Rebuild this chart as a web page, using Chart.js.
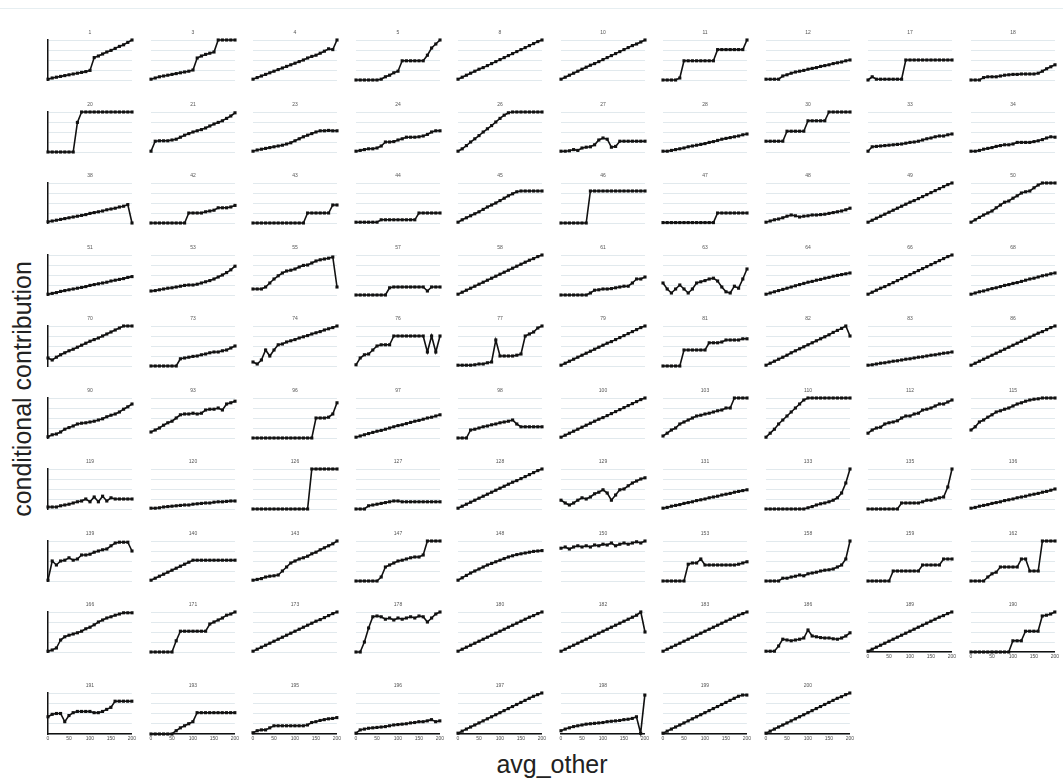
<!DOCTYPE html>
<html>
<head>
<meta charset="utf-8">
<script src="https://cdn.jsdelivr.net/npm/chart.js@4.4.1/dist/chart.umd.min.js"></script>
<style>
    body { margin: 0; background: #fff; }
    #wrap { position: relative; width: 1063px; height: 780px; overflow: hidden; font-family: "Liberation Sans", Arial, sans-serif; }
    #wrap canvas { position: absolute; }
    .topline { position: absolute; left: 0; top: 8px; width: 1063px; height: 1px; background: #e6eef1; }
    .ylab { position: absolute; left: 22px; top: 389px; transform: translate(-50%, -50%) rotate(-90deg); font-size: 25px; color: #222; white-space: nowrap; }
    .xlab { position: absolute; left: 552px; top: 764px; transform: translate(-50%, -50%); font-size: 25px; color: #222; white-space: nowrap; }
</style>
</head>
<body>
<div id="wrap">
    <div class="topline"></div>
    <div class="ylab">conditional contribution</div>
    <div class="xlab">avg_other</div>
</div>
<script>
// avg_other values where each panel is evaluated
const xValues = [0, 10, 20, 30, 40, 50, 60, 70, 80, 90, 100, 110, 120, 130, 140, 150, 160, 170, 180, 190, 200];
const xTickStep = 50;
const yTickStep = 25;

// panel labels
const panelIds = [
    '1', '3', '4', '5', '8', '10', '11', '12', '17', '18',
    '20', '21', '23', '24', '26', '27', '28', '30', '33', '34',
    '38', '42', '43', '44', '45', '46', '47', '48', '49', '50',
    '51', '53', '55', '57', '58', '61', '63', '64', '66', '68',
    '70', '73', '74', '76', '77', '79', '81', '82', '83', '86',
    '90', '93', '96', '97', '98', '100', '103', '110', '112', '115',
    '119', '120', '126', '127', '128', '129', '131', '133', '135', '136',
    '139', '140', '143', '147', '148', '150', '153', '158', '159', '162',
    '166', '171', '173', '178', '180', '182', '183', '186', '189', '190',
    '191', '193', '195', '196', '197', '198', '199', '200'
];

// conditional contribution, one row of panels per array
const row0 = [
    [2, 5, 7, 9, 11, 13, 15, 17, 19, 21, 24, 56, 60, 65, 70, 74, 79, 84, 88, 94, 100],
    [2, 5, 8, 10, 12, 14, 16, 18, 20, 22, 25, 55, 60, 64, 67, 70, 100, 100, 100, 100, 100],
    [2, 6, 10, 14, 18, 22, 26, 30, 34, 38, 42, 46, 50, 55, 59, 62, 67, 72, 78, 76, 100],
    [0, 0, 0, 0, 0, 0, 2, 8, 12, 18, 22, 48, 48, 48, 48, 48, 48, 62, 80, 90, 100],
    [2, 7, 12, 17, 22, 27, 31, 36, 41, 46, 51, 56, 61, 66, 71, 76, 81, 86, 91, 96, 100],
    [2, 7, 12, 17, 22, 27, 32, 37, 41, 46, 51, 56, 61, 66, 71, 76, 81, 86, 90, 95, 100],
    [0, 0, 0, 0, 5, 48, 48, 48, 48, 48, 48, 48, 48, 76, 76, 76, 76, 76, 76, 76, 100],
    [2, 2, 2, 2, 10, 13, 17, 20, 22, 24, 27, 29, 31, 34, 36, 38, 41, 43, 45, 48, 50],
    [0, 8, 2, 2, 2, 2, 2, 2, 2, 50, 50, 50, 50, 50, 50, 50, 50, 50, 50, 50, 50],
    [0, 0, 0, 6, 8, 8, 8, 10, 12, 13, 14, 14, 15, 15, 15, 15, 17, 22, 28, 33, 38]
];
const row1 = [
    [0, 0, 0, 0, 0, 0, 0, 74, 100, 100, 100, 100, 100, 100, 100, 100, 100, 100, 100, 100, 100],
    [2, 27, 28, 28, 28, 30, 32, 37, 42, 46, 50, 53, 56, 60, 65, 70, 74, 78, 84, 90, 98],
    [2, 5, 7, 9, 11, 13, 15, 17, 20, 23, 28, 33, 38, 42, 46, 50, 53, 53, 54, 53, 53],
    [2, 4, 6, 8, 8, 10, 15, 25, 25, 26, 30, 33, 37, 37, 37, 38, 40, 44, 50, 53, 53],
    [2, 8, 16, 25, 33, 41, 50, 58, 66, 75, 84, 92, 98, 100, 100, 100, 100, 100, 100, 100, 100],
    [2, 2, 3, 6, 4, 10, 12, 13, 18, 30, 35, 32, 12, 14, 27, 27, 27, 27, 27, 27, 27],
    [2, 2, 4, 6, 8, 10, 13, 15, 17, 19, 21, 24, 26, 29, 32, 34, 36, 38, 40, 43, 45],
    [27, 27, 27, 27, 27, 52, 52, 52, 52, 52, 78, 78, 78, 78, 78, 100, 100, 100, 100, 100, 100],
    [2, 13, 14, 15, 16, 17, 18, 19, 20, 22, 24, 25, 27, 30, 33, 35, 38, 40, 40, 43, 45],
    [2, 2, 4, 7, 9, 11, 14, 16, 18, 18, 20, 24, 24, 24, 24, 26, 28, 31, 35, 38, 37]
];
const row2 = [
    [3, 5, 7, 9, 11, 13, 15, 17, 19, 21, 24, 26, 28, 30, 33, 35, 37, 40, 42, 46, 0],
    [0, 0, 0, 0, 0, 0, 0, 0, 0, 25, 25, 25, 25, 28, 30, 32, 38, 38, 38, 40, 44],
    [0, 0, 0, 0, 0, 0, 0, 0, 0, 0, 0, 0, 0, 25, 25, 25, 25, 25, 25, 45, 45],
    [2, 2, 2, 2, 2, 2, 8, 8, 8, 8, 8, 8, 8, 8, 8, 25, 25, 25, 25, 25, 25],
    [2, 8, 13, 18, 23, 28, 34, 40, 45, 50, 56, 62, 68, 73, 78, 80, 80, 80, 80, 80, 80],
    [0, 0, 0, 0, 0, 0, 0, 80, 80, 80, 80, 80, 80, 80, 80, 80, 80, 80, 80, 80, 80],
    [1, 1, 1, 1, 1, 1, 1, 1, 1, 1, 1, 1, 1, 25, 25, 25, 25, 25, 25, 25, 25],
    [2, 5, 8, 10, 13, 17, 20, 18, 15, 17, 18, 20, 20, 21, 22, 24, 26, 28, 30, 33, 37],
    [2, 7, 12, 17, 22, 27, 32, 37, 42, 47, 52, 56, 61, 66, 71, 76, 81, 86, 91, 96, 100],
    [2, 8, 14, 20, 25, 30, 38, 45, 52, 55, 62, 68, 75, 78, 80, 88, 95, 100, 100, 100, 100]
];
const row3 = [
    [2, 4, 6, 9, 11, 13, 15, 17, 19, 21, 24, 26, 28, 30, 32, 35, 37, 39, 41, 44, 46],
    [10, 11, 13, 15, 17, 18, 20, 22, 24, 25, 25, 27, 30, 33, 36, 40, 45, 50, 56, 63, 72],
    [15, 15, 15, 20, 30, 40, 48, 55, 60, 62, 65, 70, 74, 75, 80, 85, 88, 90, 92, 95, 20],
    [0, 0, 0, 0, 0, 0, 0, 0, 18, 20, 20, 20, 20, 20, 20, 20, 20, 10, 20, 20, 20],
    [2, 7, 12, 17, 22, 27, 32, 37, 42, 47, 52, 57, 62, 67, 72, 77, 82, 87, 91, 96, 100],
    [0, 0, 0, 0, 0, 0, 0, 5, 12, 13, 15, 15, 16, 18, 20, 22, 22, 30, 40, 40, 45],
    [30, 15, 5, 15, 25, 15, 5, 15, 30, 33, 36, 40, 42, 35, 20, 8, 5, 22, 17, 40, 65],
    [2, 5, 8, 11, 14, 17, 20, 23, 26, 29, 32, 34, 37, 39, 42, 44, 47, 49, 51, 53, 55],
    [2, 7, 12, 17, 21, 26, 31, 36, 41, 46, 51, 56, 61, 66, 71, 76, 81, 86, 91, 96, 100],
    [2, 5, 8, 10, 13, 16, 18, 21, 24, 26, 29, 31, 34, 37, 40, 42, 45, 48, 50, 53, 55]
];
const row4 = [
    [20, 15, 22, 28, 33, 38, 42, 47, 52, 57, 62, 66, 70, 75, 80, 85, 90, 95, 100, 100, 100],
    [0, 0, 0, 0, 0, 0, 0, 18, 20, 22, 24, 25, 28, 30, 33, 35, 35, 38, 40, 45, 50],
    [10, 5, 15, 40, 25, 40, 53, 55, 60, 63, 66, 70, 73, 76, 80, 83, 86, 90, 93, 96, 100],
    [3, 20, 28, 30, 40, 50, 53, 53, 53, 75, 75, 75, 75, 75, 75, 75, 75, 35, 75, 35, 75],
    [2, 2, 2, 2, 3, 5, 5, 8, 10, 65, 25, 25, 25, 25, 27, 30, 75, 80, 85, 95, 100],
    [2, 7, 12, 17, 22, 27, 32, 37, 42, 47, 52, 57, 61, 66, 71, 76, 81, 86, 91, 96, 100],
    [0, 0, 0, 0, 0, 40, 40, 40, 40, 40, 40, 58, 58, 58, 60, 65, 65, 65, 65, 68, 68],
    [2, 7, 12, 17, 22, 27, 33, 38, 43, 48, 53, 58, 63, 68, 73, 78, 84, 89, 94, 100, 75],
    [2, 3, 5, 7, 8, 10, 12, 13, 15, 17, 18, 20, 22, 23, 25, 27, 28, 30, 32, 33, 35],
    [2, 7, 12, 17, 22, 27, 32, 37, 42, 47, 52, 57, 62, 67, 72, 77, 82, 86, 91, 96, 100]
];
const row5 = [
    [3, 8, 10, 15, 22, 26, 30, 35, 37, 38, 40, 42, 45, 48, 53, 57, 60, 65, 72, 78, 85],
    [15, 20, 25, 32, 38, 42, 50, 58, 60, 60, 62, 60, 62, 70, 72, 72, 75, 70, 85, 88, 92],
    [0, 0, 0, 0, 0, 0, 0, 0, 0, 0, 0, 0, 0, 0, 0, 50, 50, 50, 52, 60, 88],
    [2, 5, 8, 11, 14, 17, 19, 22, 25, 28, 31, 33, 36, 39, 42, 44, 47, 50, 52, 55, 58],
    [0, 0, 0, 20, 22, 25, 28, 30, 33, 35, 38, 40, 42, 45, 35, 28, 28, 28, 28, 28, 28],
    [2, 7, 12, 17, 22, 27, 32, 37, 42, 47, 51, 56, 61, 66, 71, 76, 81, 86, 91, 96, 100],
    [5, 12, 20, 25, 35, 40, 45, 50, 55, 57, 60, 62, 65, 68, 70, 75, 75, 100, 100, 100, 100],
    [2, 12, 22, 35, 45, 55, 65, 75, 85, 95, 100, 100, 100, 100, 100, 100, 100, 100, 100, 100, 100],
    [12, 20, 25, 27, 35, 38, 40, 43, 50, 55, 55, 60, 62, 70, 72, 75, 80, 85, 85, 90, 95],
    [20, 28, 40, 45, 52, 58, 65, 68, 72, 75, 80, 85, 88, 92, 95, 97, 98, 100, 100, 100, 100]
];
const row6 = [
    [5, 5, 5, 8, 10, 12, 15, 18, 20, 25, 18, 30, 18, 32, 20, 28, 25, 25, 25, 25, 25],
    [2, 2, 3, 5, 6, 7, 8, 9, 10, 10, 12, 13, 14, 15, 15, 17, 18, 18, 19, 20, 20],
    [0, 0, 0, 0, 0, 0, 0, 0, 0, 0, 0, 0, 0, 0, 100, 100, 100, 100, 100, 100, 100],
    [0, 0, 0, 8, 10, 12, 14, 16, 18, 20, 20, 18, 18, 18, 18, 18, 18, 18, 18, 18, 18],
    [2, 7, 12, 17, 22, 27, 32, 37, 42, 47, 52, 57, 62, 67, 71, 76, 81, 86, 91, 96, 100],
    [22, 15, 10, 15, 22, 28, 25, 30, 38, 42, 48, 40, 22, 35, 48, 50, 58, 65, 70, 75, 78],
    [2, 4, 7, 9, 11, 14, 16, 18, 21, 23, 25, 28, 30, 32, 35, 37, 39, 42, 44, 46, 48],
    [0, 0, 0, 0, 0, 0, 0, 0, 0, 0, 3, 6, 10, 13, 15, 18, 22, 28, 40, 65, 100],
    [0, 0, 0, 0, 0, 0, 0, 0, 15, 15, 15, 15, 15, 18, 22, 22, 25, 28, 30, 55, 100],
    [2, 4, 7, 9, 11, 14, 16, 18, 21, 23, 25, 28, 30, 32, 35, 37, 39, 42, 44, 47, 50]
];
const row7 = [
    [2, 50, 40, 50, 52, 58, 52, 55, 65, 65, 67, 72, 75, 78, 80, 88, 95, 97, 97, 97, 75],
    [2, 7, 12, 17, 22, 27, 32, 37, 42, 47, 52, 52, 52, 52, 52, 52, 52, 52, 52, 52, 52],
    [2, 4, 6, 10, 12, 13, 15, 25, 35, 45, 50, 55, 58, 62, 68, 72, 78, 83, 88, 93, 100],
    [0, 0, 0, 0, 0, 0, 10, 35, 40, 45, 50, 52, 55, 58, 60, 60, 65, 100, 100, 100, 100],
    [2, 8, 14, 20, 25, 30, 35, 40, 44, 48, 52, 56, 60, 63, 66, 68, 70, 72, 74, 75, 76],
    [82, 85, 80, 85, 88, 85, 88, 85, 90, 88, 92, 90, 95, 88, 92, 95, 92, 95, 98, 95, 100],
    [0, 0, 0, 0, 0, 0, 42, 45, 45, 55, 40, 40, 40, 40, 40, 40, 40, 40, 42, 45, 48],
    [0, 0, 0, 0, 7, 7, 10, 12, 15, 13, 18, 20, 22, 25, 27, 28, 30, 35, 40, 55, 100],
    [0, 0, 0, 0, 0, 0, 25, 25, 25, 25, 25, 25, 25, 40, 40, 40, 40, 40, 55, 55, 55],
    [0, 0, 0, 0, 10, 18, 22, 35, 35, 35, 35, 35, 55, 55, 25, 25, 25, 100, 100, 100, 100]
];
const row8 = [
    [2, 5, 10, 30, 38, 42, 45, 48, 52, 58, 62, 68, 75, 80, 85, 88, 92, 95, 98, 98, 98],
    [0, 0, 0, 0, 0, 0, 28, 52, 52, 52, 52, 52, 52, 52, 70, 75, 80, 85, 92, 95, 100],
    [2, 7, 12, 17, 22, 27, 32, 37, 42, 47, 52, 57, 62, 67, 72, 77, 81, 86, 91, 96, 100],
    [0, 0, 25, 60, 88, 90, 88, 82, 85, 80, 85, 82, 85, 88, 85, 90, 88, 75, 85, 95, 100],
    [2, 7, 12, 17, 22, 27, 32, 37, 42, 47, 52, 57, 62, 67, 72, 77, 82, 87, 91, 96, 100],
    [2, 7, 12, 17, 22, 27, 32, 37, 42, 47, 52, 57, 62, 67, 72, 77, 82, 87, 92, 100, 50],
    [2, 7, 12, 17, 22, 27, 32, 37, 42, 47, 52, 57, 62, 67, 72, 77, 82, 87, 92, 96, 100],
    [2, 2, 2, 15, 32, 30, 28, 30, 32, 35, 55, 40, 38, 36, 35, 35, 33, 32, 35, 40, 48],
    [2, 7, 12, 17, 22, 27, 32, 37, 42, 47, 52, 57, 62, 67, 72, 77, 82, 87, 91, 96, 100],
    [0, 0, 0, 0, 0, 0, 0, 0, 0, 0, 28, 28, 28, 52, 52, 52, 52, 90, 92, 95, 100]
];
const row9 = [
    [42, 48, 50, 50, 30, 45, 52, 55, 55, 55, 55, 52, 52, 55, 60, 65, 80, 80, 80, 80, 80],
    [0, 0, 0, 0, 0, 0, 8, 15, 20, 25, 30, 52, 52, 52, 52, 52, 52, 52, 52, 52, 52],
    [3, 8, 10, 10, 15, 20, 20, 20, 20, 20, 20, 20, 20, 22, 28, 30, 33, 35, 37, 38, 40],
    [2, 10, 12, 14, 15, 16, 17, 18, 20, 22, 23, 24, 25, 27, 28, 30, 30, 32, 35, 30, 32],
    [2, 7, 12, 17, 22, 27, 32, 37, 42, 47, 52, 57, 62, 67, 72, 77, 82, 87, 92, 96, 100],
    [8, 12, 15, 18, 20, 22, 24, 25, 26, 27, 28, 30, 31, 32, 33, 35, 36, 38, 42, 2, 95],
    [2, 7, 12, 17, 22, 27, 32, 37, 42, 47, 52, 57, 62, 67, 72, 77, 82, 87, 92, 95, 95],
    [2, 7, 12, 17, 22, 27, 32, 37, 42, 47, 52, 57, 62, 67, 72, 77, 82, 87, 91, 96, 100]
];
const allRows = [row0, row1, row2, row3, row4, row5, row6, row7, row8, row9];

// small strip title drawn above each panel
const panelTitle = {
    id: 'panelTitle',
    afterDraw(chart, args, opts) {
        const { ctx, chartArea } = chart;
        ctx.save();
        ctx.font = '5px "Liberation Sans", Arial, sans-serif';
        ctx.fillStyle = '#555';
        ctx.textAlign = 'center';
        ctx.textBaseline = 'bottom';
        ctx.fillText(opts.text, (chartArea.left + chartArea.right) / 2, chartArea.top - 5);
        ctx.restore();
    }
};

function makePanel(index, values) {
    const row = Math.floor(index / 10);
    const col = index % 10;
    const isBottom = row === 9 || (row === 8 && col >= 8);
    const plotLeft = 48 + col * 102.55;
    const plotTop = row < 9 ? 40 + row * 71.5 : 692.5;
    const plotH = row < 9 ? 40 : 41;
    const padL = 6, padT = 14, padB = isBottom ? 2 : 4;
    const axisH = isBottom ? 10 : 0;

    const canvas = document.createElement('canvas');
    canvas.width = 96;
    canvas.height = padT + plotH + axisH + padB;
    canvas.style.left = (plotLeft - padL) + 'px';
    canvas.style.top = (plotTop - padT) + 'px';
    canvas.style.width = canvas.width + 'px';
    canvas.style.height = canvas.height + 'px';
    document.getElementById('wrap').appendChild(canvas);

    new Chart(canvas.getContext('2d'), {
        type: 'line',
        data: {
            datasets: [{
                data: values.map((v, k) => ({ x: xValues[k], y: v })),
                borderColor: '#111',
                borderWidth: 1.6,
                pointStyle: 'rect',
                pointRadius: 2.2,
                pointBackgroundColor: '#111',
                pointBorderWidth: 0,
                tension: 0,
                clip: false
            }]
        },
        options: {
            responsive: false,
            animation: false,
            devicePixelRatio: 1,
            events: [],
            layout: { padding: { left: padL, right: 6, top: padT, bottom: padB } },
            plugins: {
                legend: { display: false },
                tooltip: { enabled: false },
                panelTitle: { text: panelIds[index] }
            },
            scales: {
                x: {
                    type: 'linear',
                    min: 0,
                    max: 200,
                    grid: { display: false, drawTicks: false },
                    border: { display: isBottom, color: '#111', width: 1.5 },
                    ticks: {
                        display: isBottom,
                        stepSize: xTickStep,
                        autoSkip: false,
                        maxRotation: 0,
                        padding: 2,
                        color: '#4a4a4a',
                        font: { size: 5 }
                    },
                    afterFit: function(scale) { scale.height = axisH; }
                },
                y: {
                    min: 0,
                    max: 100,
                    grid: { color: '#e1e9ed', lineWidth: 1, drawTicks: false },
                    border: { display: col === 0, color: '#111', width: 1.5 },
                    ticks: { display: false, stepSize: yTickStep },
                    afterFit: function(scale) { scale.width = 0; }
                }
            }
        },
        plugins: [panelTitle]
    });
}

let panelIndex = 0;
allRows.forEach(rowData => {
    rowData.forEach(values => {
        makePanel(panelIndex, values);
        panelIndex++;
    });
});
</script>
</body>
</html>
